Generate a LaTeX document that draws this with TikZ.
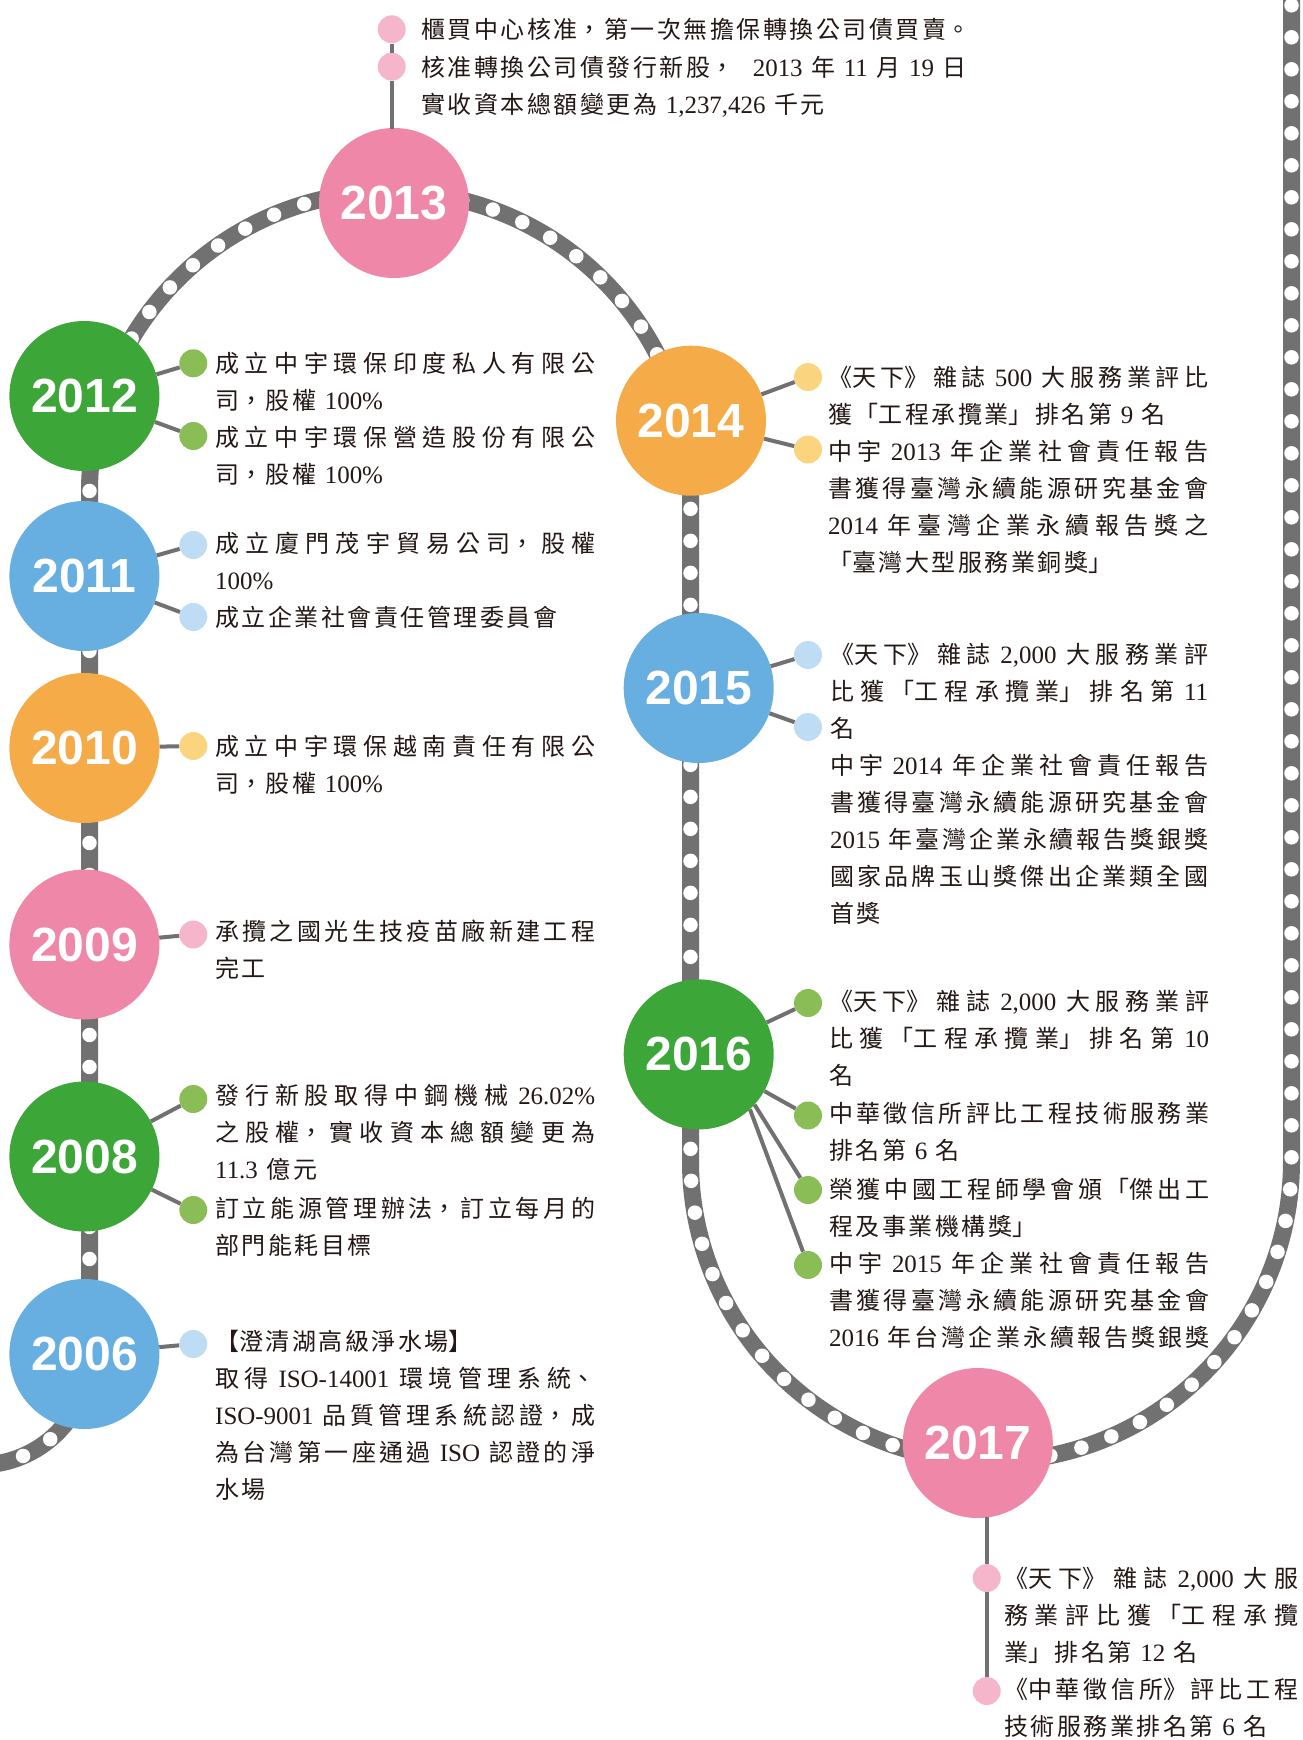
\documentclass[tikz,border=0pt]{standalone}
\usepackage{fontspec}
\setmainfont{Noto Sans CJK TC}[WordSpace=1.6]
\newfontfamily\latfont{Liberation Serif}[Scale=1.04]
\newfontfamily\yearfont{Liberation Sans}
\XeTeXlinebreaklocale "zh"
\XeTeXlinebreakskip=2.5pt plus 12pt minus 3pt
\tolerance=9999
\newcommand\LL[1]{{\latfont #1}}
\newcommand\fulllast{\parfillskip=0pt\par}
\definecolor{pinkM}{HTML}{EF87A8}
\definecolor{pinkL}{HTML}{F5B6CB}
\definecolor{greenM}{HTML}{3DA639}
\definecolor{greenL}{HTML}{8BBD57}
\definecolor{blueM}{HTML}{67AFE0}
\definecolor{blueL}{HTML}{BEDDF5}
\definecolor{orangeM}{HTML}{F5AC48}
\definecolor{orangeL}{HTML}{FBD47F}
\definecolor{trackgray}{HTML}{717171}
\definecolor{txtc}{HTML}{231815}
\tikzset{
  yearnode/.style={circle, minimum size=150pt, inner sep=0pt, text=white,
    font=\yearfont\bfseries\fontsize{48}{48}\selectfont},
  dotnode/.style={circle, minimum size=28pt, inner sep=0pt},
  conn/.style={draw=trackgray, line width=4pt},
  txt/.style={anchor=base west, inner sep=0pt, text=txtc, align=justify,
    font=\fontsize{24}{37.2}\selectfont},
  trackline/.style={draw=trackgray, line width=17pt},
  trackdots/.style={draw=white, line width=14.5pt, line cap=round, dash pattern=on 0pt off 32pt},
}
\begin{document}
\begin{tikzpicture}[x=1pt,y=-1pt]
\useasboundingbox (0,0) rectangle (1303,1740);
\clip (0,0) rectangle (1303,1740);
% track
\draw[trackline] (-39.6,1463.3) arc[start angle=100, end angle=0, radius=110]
  -- (89.5,492) arc[start angle=180, end angle=360, radius=300.5]
  -- (690.5,1161) arc[start angle=180, end angle=0, radius=300.5]
  -- (1291.5,-20);
\draw[trackdots] (-39.6,1463.3) arc[start angle=100, end angle=0, radius=110]
  -- (89.5,492) arc[start angle=180, end angle=360, radius=300.5]
  -- (690.5,1161) arc[start angle=180, end angle=0, radius=300.5]
  -- (1291.5,-20);
% year circles
\node[yearnode, fill=pinkM] (y2013) at (394,203) {2013};
\node[yearnode, fill=greenM] (y2012) at (84.4,396) {2012};
\node[yearnode, fill=blueM] (y2011) at (84.4,576) {2011};
\node[yearnode, fill=orangeM] (y2010) at (84.4,748) {2010};
\node[yearnode, fill=pinkM] (y2009) at (84.4,944.5) {2009};
\node[yearnode, fill=greenM] (y2008) at (84.4,1156.5) {2008};
\node[yearnode, fill=blueM] (y2006) at (84.4,1354) {2006};
\node[yearnode, fill=orangeM] (y2014) at (691,420.7) {2014};
\node[yearnode, fill=blueM] (y2015) at (698.7,688) {2015};
\node[yearnode, fill=greenM] (y2016) at (698.7,1054.4) {2016};
\node[yearnode, fill=pinkM] (y2017) at (977.8,1443) {2017};
% bullets
\node[dotnode, fill=pinkL] (d13a) at (391.7,29.3) {};
\node[dotnode, fill=pinkL] (d13b) at (391.7,66.7) {};
\node[dotnode, fill=greenL] (d12a) at (193.3,363.3) {};
\node[dotnode, fill=greenL] (d12b) at (193.3,436) {};
\node[dotnode, fill=blueL] (d11a) at (193.3,545) {};
\node[dotnode, fill=blueL] (d11b) at (193.3,617) {};
\node[dotnode, fill=orangeL] (d10a) at (193.3,746) {};
\node[dotnode, fill=pinkL] (d09a) at (193.3,934.5) {};
\node[dotnode, fill=greenL] (d08a) at (193.3,1099) {};
\node[dotnode, fill=greenL] (d08b) at (193.3,1210) {};
\node[dotnode, fill=blueL] (d06a) at (193.3,1344) {};
\node[dotnode, fill=orangeL] (d14a) at (808,377) {};
\node[dotnode, fill=orangeL] (d14b) at (808,449.5) {};
\node[dotnode, fill=blueL] (d15a) at (808,655) {};
\node[dotnode, fill=blueL] (d15b) at (808,727) {};
\node[dotnode, fill=greenL] (d16a) at (808,1003) {};
\node[dotnode, fill=greenL] (d16b) at (808,1115.5) {};
\node[dotnode, fill=greenL] (d16c) at (808,1190) {};
\node[dotnode, fill=greenL] (d16d) at (808,1265) {};
\node[dotnode, fill=pinkL] (d17a) at (986.7,1578) {};
\node[dotnode, fill=pinkL] (d17b) at (986.7,1691) {};
% connectors
\draw[conn] (d13a) -- (d13b);
\draw[conn, shorten >=-1pt] (d13b) -- (d13b |- y2013.north);
\draw[conn] (y2012) -- (d12a);
\draw[conn] (y2012) -- (d12b);
\draw[conn] (y2011) -- (d11a);
\draw[conn] (y2011) -- (d11b);
\draw[conn] (y2010) -- (d10a);
\draw[conn] (y2009) -- (d09a);
\draw[conn] (y2008) -- (d08a);
\draw[conn] (y2008) -- (d08b);
\draw[conn] (y2006) -- (d06a);
\draw[conn] (y2014) -- (d14a);
\draw[conn] (y2014) -- (d14b);
\draw[conn] (y2015) -- (d15a);
\draw[conn] (y2015) -- (d15b);
\draw[conn] (y2016) -- (d16a);
\draw[conn] (y2016) -- (d16b);
\draw[conn] (y2016.-42) -- (d16c);
\draw[conn] (y2016.-47) -- (d16d);
\draw[conn, shorten <=-1pt] (d17a |- y2017.south) -- (d17a);
\draw[conn] (d17a) -- (d17b);
% texts
\node[txt, text width=620pt] (x13a) at (421,38) {櫃買中心核准，第一次無擔保轉換公司債買賣。};
\node[txt, text width=620pt] (x13b) at (421,76) {核准轉換公司債發行新股，\hspace{10pt} \LL{2013} 年 \LL{11} 月 \LL{19} 日\\實收資本總額變更為 \LL{1,237,426} 千元};
\node[txt, text width=380pt] (x12a) at (215,372) {成立中宇環保印度私人有限公\linebreak 司，股權 \LL{100\%}};
\node[txt, text width=380pt] (x12b) at (215,446) {成立中宇環保營造股份有限公\linebreak 司，股權 \LL{100\%}};
\node[txt, text width=380pt] (x11a) at (215,552) {成立廈門茂宇貿易公司，股權\linebreak\LL{100\%}};
\node[txt, text width=380pt] (x11b) at (215,626) {成立企業社會責任管理委員會};
\node[txt, text width=380pt] (x10a) at (215,755) {成立中宇環保越南責任有限公\linebreak 司，股權 \LL{100\%}};
\node[txt, text width=380pt] (x09a) at (215,940) {承攬之國光生技疫苗廠新建工程\linebreak 完工};
\node[txt, text width=380pt] (x08a) at (215,1104) {發行新股取得中鋼機械 \LL{26.02\%}\linebreak 之股權，實收資本總額變更為\linebreak\LL{11.3} 億元};
\node[txt, text width=380pt] (x08b) at (215,1217) {訂立能源管理辦法，訂立每月的\linebreak 部門能耗目標};
\node[txt, text width=380pt] (x06a) at (215,1350) {【澄清湖高級淨水場】\\取得 \LL{ISO-14001} 環境管理系統、\linebreak\LL{ISO-9001} 品質管理系統認證，成\linebreak 為台灣第一座通過 \LL{ISO} 認證的淨\linebreak 水場};
\node[txt, text width=380pt] (x14a) at (828,386) {《天下》雜誌 \LL{500} 大服務業評比\linebreak 獲「工程承攬業」排名第 \LL{9} 名};
\node[txt, text width=380pt] (x14b) at (828,460) {中宇 \LL{2013} 年企業社會責任報告\linebreak 書獲得臺灣永續能源研究基金會\linebreak\LL{2014} 年臺灣企業永續報告獎之\linebreak 「臺灣大型服務業銅獎」};
\node[txt, text width=378pt] (x15a) at (830,663) {《天下》雜誌 \LL{2,000} 大服務業評\linebreak 比獲「工程承攬業」排名第 \LL{11}\linebreak 名};
\node[txt, text width=378pt] (x15b) at (830,774) {中宇 \LL{2014} 年企業社會責任報告\linebreak 書獲得臺灣永續能源研究基金會\linebreak\LL{2015} 年臺灣企業永續報告獎銀獎\linebreak 國家品牌玉山獎傑出企業類全國\linebreak 首獎};
\node[txt, text width=380pt] (x16a) at (829,1010) {《天下》雜誌 \LL{2,000} 大服務業評\linebreak 比獲「工程承攬業」排名第 \LL{10}\linebreak 名};
\node[txt, text width=380pt] (x16b) at (829,1122) {中華徵信所評比工程技術服務業\linebreak 排名第 \LL{6} 名};
\node[txt, text width=380pt] (x16c) at (829,1198) {榮獲中國工程師學會頒「傑出工\linebreak 程及事業機構獎」};
\node[txt, text width=380pt] (x16d) at (829,1272) {中宇 \LL{2015} 年企業社會責任報告\linebreak 書獲得臺灣永續能源研究基金會\linebreak\LL{2016} 年台灣企業永續報告獎銀獎\fulllast};
\node[txt, text width=294pt] (x17a) at (1004,1587) {《天下》雜誌 \LL{2,000} 大服\linebreak 務業評比獲「工程承攬\linebreak 業」排名第 \LL{12} 名};
\node[txt, text width=294pt] (x17b) at (1004,1698) {《中華徵信所》評比工程\linebreak 技術服務業排名第 \LL{6} 名};
\end{tikzpicture}
\end{document}
